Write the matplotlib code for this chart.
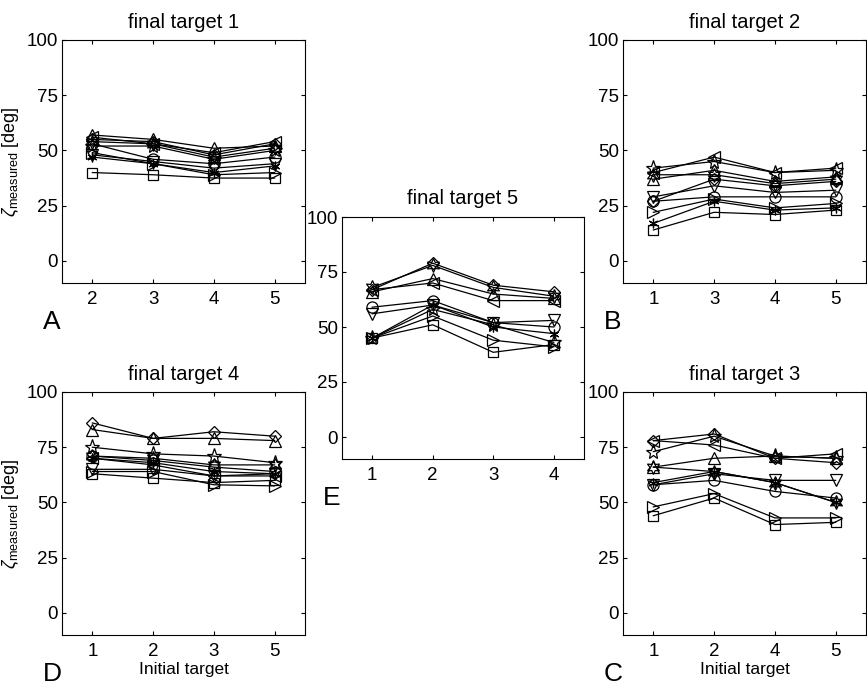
import matplotlib.pyplot as plt
import matplotlib as mpl

mpl.rcParams['font.family'] = ['Liberation Sans', 'DejaVu Sans']
mpl.rcParams['mathtext.fontset'] = 'custom'
mpl.rcParams['mathtext.rm'] = 'Liberation Sans'
mpl.rcParams['mathtext.it'] = 'Liberation Sans:italic'

# initial targets shown on each panel's x axis
initial_A = ['2', '3', '4', '5']
initial_B = ['1', '3', '4', '5']
initial_E = ['1', '2', '3', '4']
initial_D = ['1', '2', '3', '5']
initial_C = ['1', '2', '4', '5']

# measured angle [deg], one list per subject
# final target 1
A_square = [40, 39, 37.5, 37.5]
A_up = [57, 55, 51, 52]
A_left = [56, 53, 49, 54]
A_diamond = [55, 54, 48, 53]
A_hexagram = [54, 53, 47, 51]
A_pentagram = [52, 52, 46, 50]
A_circle = [53, 46, 44, 47]
A_down = [48, 45, 42, 44]
A_asterisk = [47, 44, 40, 43]
A_right = [49, 44, 39, 40]

# final target 2
B_left = [40, 47, 40, 42]
B_pentagram = [42, 45, 40, 41]
B_up = [37, 41, 36, 38]
B_hexagram = [39, 39, 35, 37]
B_diamond = [27, 37, 34, 36]
B_down = [29, 34, 31, 32]
B_circle = [27, 29, 29, 29]
B_right = [22, 28, 24, 26]
B_asterisk = [17, 27, 23, 24]
B_square = [14, 22, 21, 23]

# final target 5
E_diamond = [67, 79, 69, 66]
E_hexagram = [68, 78, 68, 64]
E_up = [66, 72, 65, 63]
E_left = [67, 70, 62, 62]
E_circle = [59, 62, 52, 50]
E_down = [56, 60, 52, 53]
E_asterisk = [45, 60, 50, 47]
E_pentagram = [45, 58, 51, 43]
E_right = [45, 55, 44, 41]
E_square = [45, 51, 38.5, 42]

# final target 4
D_diamond = [86, 79, 82, 80]
D_up = [83, 79, 79, 78]
D_pentagram = [75, 72, 71, 68]
D_hexagram = [71, 70, 67, 67]
D_circle = [71, 69, 66, 64]
D_asterisk = [70, 68, 64, 63]
D_left = [70, 67, 62, 62]
D_down = [65, 65, 62, 63]
D_right = [64, 64, 58, 57.5]
D_square = [63, 61, 59, 60]

# final target 3
C_diamond = [78, 81, 70, 68]
C_left = [78, 76, 70, 72]
C_pentagram = [73, 80, 71, 70]
C_up = [66, 70, 71, 70]
C_hexagram = [66, 64, 59, 50]
C_asterisk = [59, 64, 59, 50]
C_down = [58, 63, 60, 60]
C_circle = [58, 60, 55, 52]
C_right = [48, 54, 43, 43]
C_square = [44, 52, 40, 41]

markers = {
    'square': ('s', 7),
    'circle': ('o', 8),
    'up': ('^', 8),
    'down': ('v', 8),
    'left': ('<', 8),
    'right': ('>', 8),
    'diamond': ('D', 6),
    'pentagram': ('*', 11),
    'hexagram': ((6, 1, 0), 10),
    'asterisk': ((6, 2, 0), 7),
}

panels = [
    # (rect in px: left, top, width, height), title, ticks, series, letter
    ((62, 40, 243, 243), 'final target 1', initial_A,
     {'square': A_square, 'up': A_up, 'left': A_left, 'diamond': A_diamond,
      'hexagram': A_hexagram, 'pentagram': A_pentagram, 'circle': A_circle,
      'down': A_down, 'asterisk': A_asterisk, 'right': A_right}, 'A', True, False),
    ((623, 40, 243, 243), 'final target 2', initial_B,
     {'left': B_left, 'pentagram': B_pentagram, 'up': B_up, 'hexagram': B_hexagram,
      'diamond': B_diamond, 'down': B_down, 'circle': B_circle, 'right': B_right,
      'asterisk': B_asterisk, 'square': B_square}, 'B', False, False),
    ((342, 217, 242, 242), 'final target 5', initial_E,
     {'diamond': E_diamond, 'hexagram': E_hexagram, 'up': E_up, 'left': E_left,
      'circle': E_circle, 'down': E_down, 'asterisk': E_asterisk,
      'pentagram': E_pentagram, 'right': E_right, 'square': E_square}, 'E', False, False),
    ((62, 392, 243, 243), 'final target 4', initial_D,
     {'diamond': D_diamond, 'up': D_up, 'pentagram': D_pentagram,
      'hexagram': D_hexagram, 'circle': D_circle, 'asterisk': D_asterisk,
      'left': D_left, 'down': D_down, 'right': D_right, 'square': D_square}, 'D', True, True),
    ((623, 392, 243, 243), 'final target 3', initial_C,
     {'diamond': C_diamond, 'left': C_left, 'pentagram': C_pentagram, 'up': C_up,
      'hexagram': C_hexagram, 'asterisk': C_asterisk, 'down': C_down,
      'circle': C_circle, 'right': C_right, 'square': C_square}, 'C', False, True),
]

W, H = 867, 685
fig = plt.figure(figsize=(W / 100, H / 100), dpi=100)

for (l, t, w, h), title, ticks, series, letter, ylab, xlab in panels:
    ax = fig.add_axes([l / W, 1 - (t + h) / H, w / W, h / H])
    pos = list(range(len(ticks)))
    for name, vals in series.items():
        m, ms = markers[name]
        ax.plot(pos, vals, color='black', lw=0.9, marker=m, ms=ms,
                mfc='none', mec='black', mew=0.9)
    ax.set_xlim(-0.5, len(ticks) - 0.5)
    ax.set_ylim(-10, 100)
    ax.set_xticks(pos)
    ax.set_xticklabels(ticks)
    ax.set_yticks([0, 25, 50, 75, 100])
    ax.tick_params(direction='in', top=True, right=True, length=3,
                   width=0.8, labelsize=13.5)
    ax.tick_params(axis='y', pad=3)
    ax.tick_params(axis='x', pad=6)
    for s in ax.spines.values():
        s.set_linewidth(0.8)
    ax.set_title(title, fontsize=14.5, pad=9)
    if ylab:
        ax.set_ylabel(r'$\zeta_{\rm measured}$ [deg]', fontsize=13, labelpad=4)
    if xlab:
        ax.set_xlabel('Initial target', fontsize=12.5, labelpad=1)
    fig.text((l - 10) / W, 1 - (t + h + 39) / H, letter, fontsize=19,
             ha='center', va='center')

fig.savefig('out.png', dpi=100)
